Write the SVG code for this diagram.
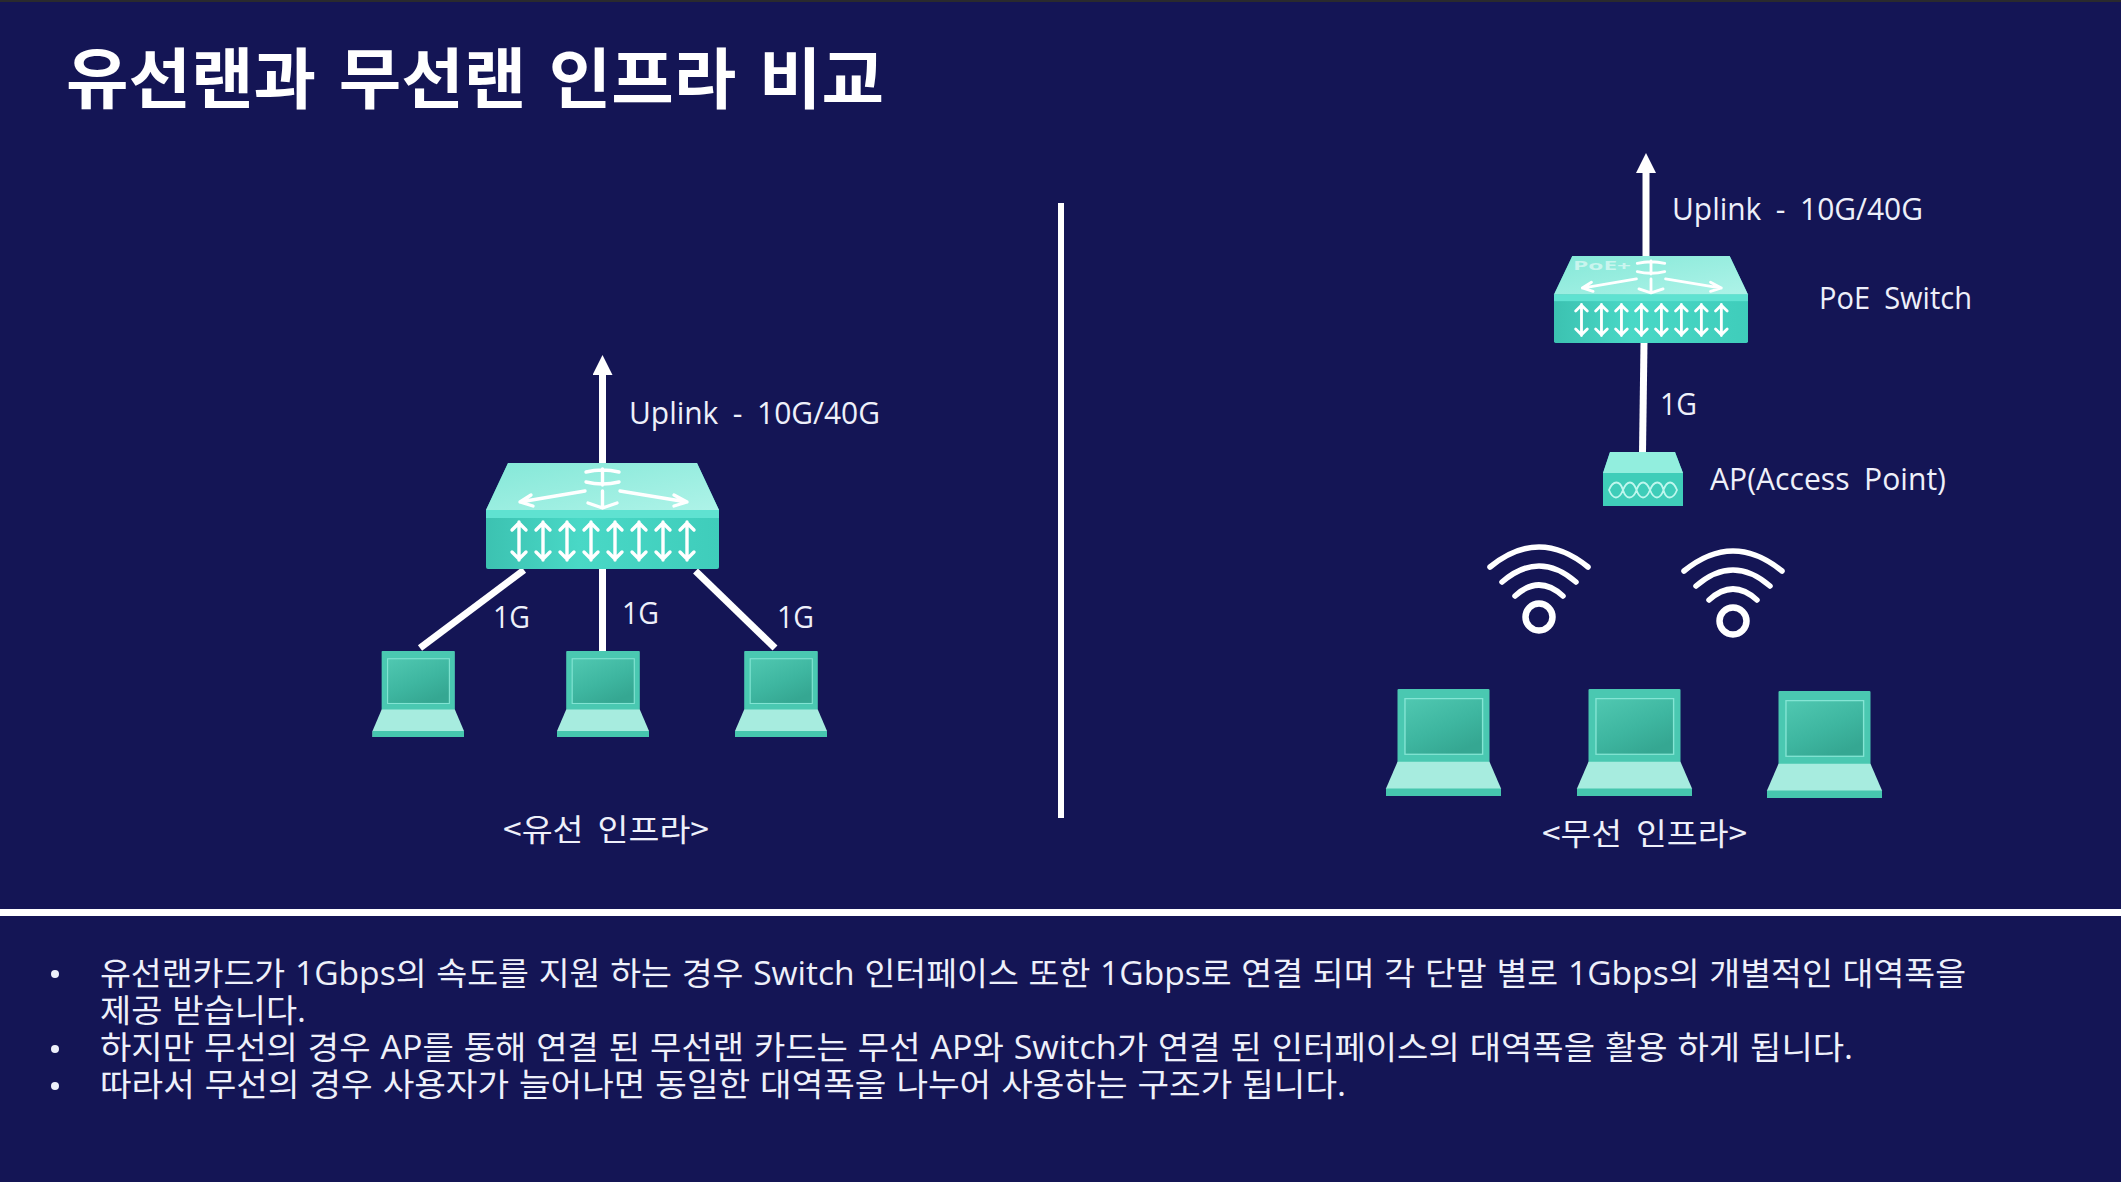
<svg xmlns="http://www.w3.org/2000/svg" width="2121" height="1182" viewBox="0 0 2121 1182">
<style>
.t{font-family:"Open Sans","Noto Sans CJK KR",sans-serif;fill:#eef0fa;font-size:31px;word-spacing:7px}
.k{font-family:"Noto Sans CJK KR",sans-serif;fill:#eef0fa;font-size:31px}
.b{font-family:"Open Sans","Noto Sans CJK KR",sans-serif;fill:#eef0fa;font-size:32px;word-spacing:1px}
.title{font-family:"Noto Sans CJK KR",sans-serif;font-weight:700;font-size:66px;fill:#fff;word-spacing:7px}
.ln{stroke:#fff;stroke-width:7;fill:none}
.ar{stroke:#fff;stroke-width:3.4;fill:none;stroke-linecap:round;stroke-linejoin:round}
.wf{stroke:#fff;stroke-width:5.5;fill:none;stroke-linecap:round}
</style>
<defs>
<linearGradient id="gTop" x1="0" y1="0" x2="1" y2="1"><stop offset="0" stop-color="#85e8d8"/><stop offset="1" stop-color="#aef3e8"/></linearGradient>
<linearGradient id="gFront" x1="0" y1="0" x2="1" y2="0"><stop offset="0" stop-color="#3cc2b1"/><stop offset="0.4" stop-color="#49d8c6"/><stop offset="1" stop-color="#3fcdbb"/></linearGradient>
<linearGradient id="gScr" x1="0" y1="0" x2="0.6" y2="1"><stop offset="0" stop-color="#50c8b1"/><stop offset="0.6" stop-color="#3eb6a0"/><stop offset="1" stop-color="#35a792"/></linearGradient>
<marker id="head" viewBox="0 0 20 20" refX="1" refY="10" markerUnits="userSpaceOnUse" markerWidth="20" markerHeight="20" orient="auto"><path d="M0 0L20 10L0 20Z" fill="#fff"/></marker>
<g id="dbl"><path class="ar" d="M0 0V38M-7 8L0 1L7 8M-7 30L0 37L7 30"/></g>
<g id="sw">
<path d="M22 0H211L233 47V104Q233 106 231 106H2Q0 106 0 104V47Z" fill="url(#gFront)"/>
<path d="M22 0H211L233 47H0Z" fill="url(#gTop)"/>
<rect y="47" width="233" height="8" fill="#5fe2d1"/>
<use href="#dbl" x="33" y="59"/><use href="#dbl" x="57" y="59"/><use href="#dbl" x="81" y="59"/><use href="#dbl" x="105" y="59"/><use href="#dbl" x="129" y="59"/><use href="#dbl" x="153" y="59"/><use href="#dbl" x="177" y="59"/><use href="#dbl" x="201" y="59"/>
<path class="ar" d="M116.500 6V22M100 9Q116.500 5 133 9M100 19Q116.500 23 133 19M99 28L34 39L45 32M34 39L47 43M134 28L201 39L188 32M201 39L188 43M116.500 28V45M102 40L116.500 45L131 40"/>
</g>
<g id="lap">
<rect x="10" y="0" width="80" height="69" rx="1" fill="#4ac8b1"/>
<rect x="16.500" y="9" width="67.500" height="52" fill="url(#gScr)" stroke="#84e5d4" stroke-width="1.200"/>
<path d="M10 68H90L100 93V100H0V93Z" fill="#a7ecdf"/>
<path d="M0 93H100V100H0Z" fill="#46c6ae"/>
</g>
<g id="wifi">
<circle cx="0" cy="0" r="13.500" fill="none" stroke="#fff" stroke-width="6.500"/>
<path class="wf" d="M-24 -21Q0 -43 24 -21M-37 -35Q0 -67 37 -35M-49 -50Q0 -90 49 -50"/>
</g>
</defs>
<rect id="background" width="2121" height="1182" fill="#141555"/>
<rect id="top-edge" width="2121" height="2" fill="#2a2a2e"/>
<text class="title" x="66" y="103" textLength="818" lengthAdjust="spacingAndGlyphs">유선랜과 무선랜 인프라 비교</text>
<rect id="divider" x="1058" y="203" width="6" height="615" fill="#fff"/>
<rect id="rule" x="0" y="909" width="2121" height="7" fill="#fff"/>

<g id="connectors">
<path class="ln" d="M602.500 463V374" marker-end="url(#head)"/>
<path class="ln" d="M524 570L420 648"/>
<path class="ln" d="M602.500 569V651"/>
<path class="ln" d="M695.500 571L775 648"/>
<path class="ln" d="M1646 257V172" marker-end="url(#head)"/>
<path class="ln" d="M1644 343L1642.500 452"/>
</g>

<g id="wired-switch"><use href="#sw" transform="translate(486 463)"/></g>
<g id="wired-laptop-1"><use href="#lap" transform="translate(372.500 651) scale(.915 .86)"/></g>
<g id="wired-laptop-2"><use href="#lap" transform="translate(557 651) scale(.92 .86)"/></g>
<g id="wired-laptop-3"><use href="#lap" transform="translate(735 651) scale(.92 .86)"/></g>

<g id="poe-switch"><use href="#sw" transform="translate(1554 256) scale(.8326 .8208)"/>
<text x="1573" y="270" textLength="58" lengthAdjust="spacingAndGlyphs" style="font-family:'Open Sans',sans-serif;font-size:13px;fill:#fff;fill-opacity:.55;font-weight:700">PoE+</text></g>
<g id="ap">
<path d="M1610 452H1675L1683 473V506H1603V473Z" fill="#3fcdb9"/>
<path d="M1610 452H1675L1683 473H1603Z" fill="#92eede"/>
<path d="M1609 490C1613 480 1620 480 1623 490S1633 500 1636.500 490S1646 480 1650 490S1660 500 1663.500 490S1673 480 1677 490C1673 500 1666 500 1663.500 490S1654 480 1650 490S1640 500 1636.500 490S1627 480 1623 490S1613 500 1609 490Z" fill="none" stroke="#bff7ee" stroke-width="1.800"/>
</g>
<g id="wifi-1"><use href="#wifi" x="1539" y="617"/></g>
<g id="wifi-2"><use href="#wifi" x="1733" y="621"/></g>
<g id="wireless-laptop-1"><use href="#lap" transform="translate(1386 689) scale(1.15 1.07)"/></g>
<g id="wireless-laptop-2"><use href="#lap" transform="translate(1577 689) scale(1.15 1.07)"/></g>
<g id="wireless-laptop-3"><use href="#lap" transform="translate(1767 691) scale(1.15 1.07)"/></g>

<g id="labels">
<text class="t" x="629" y="424" textLength="251" lengthAdjust="spacingAndGlyphs">Uplink - 10G/40G</text>
<text class="t" x="493" y="628" textLength="37" lengthAdjust="spacingAndGlyphs">1G</text>
<text class="t" x="622" y="624" textLength="37" lengthAdjust="spacingAndGlyphs">1G</text>
<text class="t" x="777" y="628" textLength="37" lengthAdjust="spacingAndGlyphs">1G</text>
<text class="k" x="503" y="841" textLength="206" lengthAdjust="spacingAndGlyphs" style="word-spacing:6px">&lt;유선 인프라&gt;</text>
<text class="t" x="1672" y="220" textLength="251" lengthAdjust="spacingAndGlyphs">Uplink - 10G/40G</text>
<text class="t" x="1819" y="309" textLength="153" lengthAdjust="spacingAndGlyphs">PoE Switch</text>
<text class="t" x="1660" y="415" textLength="37" lengthAdjust="spacingAndGlyphs">1G</text>
<text class="t" x="1710" y="490" textLength="236" lengthAdjust="spacingAndGlyphs">AP(Access Point)</text>
<text class="k" x="1542" y="845" textLength="205" lengthAdjust="spacingAndGlyphs" style="word-spacing:6px">&lt;무선 인프라&gt;</text>
</g>

<g id="body-text">
<circle cx="55" cy="974" r="4" fill="#eef0fa"/><circle cx="55" cy="1049" r="4" fill="#eef0fa"/><circle cx="55" cy="1086" r="4" fill="#eef0fa"/>
<text class="b" x="100" y="985" textLength="1866" lengthAdjust="spacingAndGlyphs">유선랜카드가 1Gbps의 속도를 지원 하는 경우 Switch 인터페이스 또한 1Gbps로 연결 되며 각 단말 별로 1Gbps의 개별적인 대역폭을</text>
<text class="b" x="100" y="1022" textLength="206" lengthAdjust="spacingAndGlyphs">제공 받습니다.</text>
<text class="b" x="100" y="1059" textLength="1753" lengthAdjust="spacingAndGlyphs">하지만 무선의 경우 AP를 통해 연결 된 무선랜 카드는 무선 AP와 Switch가 연결 된 인터페이스의 대역폭을 활용 하게 됩니다.</text>
<text class="b" x="100" y="1096" textLength="1246" lengthAdjust="spacingAndGlyphs">따라서 무선의 경우 사용자가 늘어나면 동일한 대역폭을 나누어 사용하는 구조가 됩니다.</text>
</g>
</svg>
